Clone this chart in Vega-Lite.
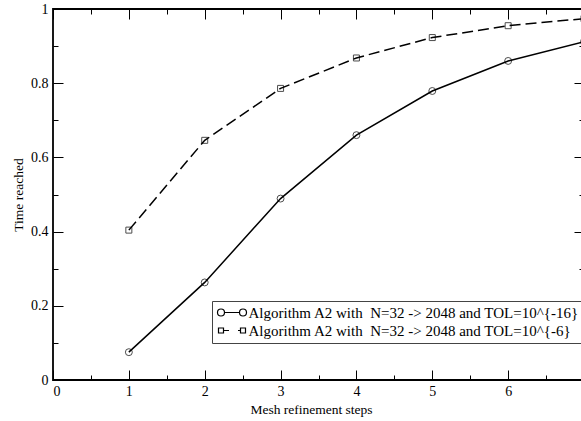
{
  "$schema": "https://vega.github.io/schema/vega-lite/v6.json",
  "width": 531,
  "height": 371,
  "autosize": {"type": "none"},
  "padding": {"left": 53, "top": 9, "right": 0, "bottom": 41},
  "background": "white",
  "config": {
    "view": {"stroke": "black", "strokeWidth": 1.8},
    "font": "Liberation Serif",
    "axis": {
      "grid": false,
      "domain": false,
      "tickColor": "black",
      "tickWidth": 1,
      "labelColor": "black",
      "labelFont": "Liberation Serif",
      "labelFontSize": 14,
      "titleFont": "Liberation Serif",
      "titleFontSize": 13.5,
      "titleFontWeight": "normal",
      "titleColor": "black"
    }
  },
  "data": {
    "values": [
      {"run": "Algorithm A2 with\u00a0 N=32 -> 2048 and TOL=10^{-16}", "tol": -16, "step": 1, "time": 0.075},
      {"run": "Algorithm A2 with\u00a0 N=32 -> 2048 and TOL=10^{-16}", "tol": -16, "step": 2, "time": 0.263},
      {"run": "Algorithm A2 with\u00a0 N=32 -> 2048 and TOL=10^{-16}", "tol": -16, "step": 3, "time": 0.489},
      {"run": "Algorithm A2 with\u00a0 N=32 -> 2048 and TOL=10^{-16}", "tol": -16, "step": 4, "time": 0.66},
      {"run": "Algorithm A2 with\u00a0 N=32 -> 2048 and TOL=10^{-16}", "tol": -16, "step": 5, "time": 0.779},
      {"run": "Algorithm A2 with\u00a0 N=32 -> 2048 and TOL=10^{-16}", "tol": -16, "step": 6, "time": 0.86},
      {"run": "Algorithm A2 with\u00a0 N=32 -> 2048 and TOL=10^{-16}", "tol": -16, "step": 7, "time": 0.912},
      {"run": "Algorithm A2 with\u00a0 N=32 -> 2048 and TOL=10^{-6}", "tol": -6, "step": 1, "time": 0.404},
      {"run": "Algorithm A2 with\u00a0 N=32 -> 2048 and TOL=10^{-6}", "tol": -6, "step": 2, "time": 0.646},
      {"run": "Algorithm A2 with\u00a0 N=32 -> 2048 and TOL=10^{-6}", "tol": -6, "step": 3, "time": 0.786},
      {"run": "Algorithm A2 with\u00a0 N=32 -> 2048 and TOL=10^{-6}", "tol": -6, "step": 4, "time": 0.868},
      {"run": "Algorithm A2 with\u00a0 N=32 -> 2048 and TOL=10^{-6}", "tol": -6, "step": 5, "time": 0.923},
      {"run": "Algorithm A2 with\u00a0 N=32 -> 2048 and TOL=10^{-6}", "tol": -6, "step": 6, "time": 0.955},
      {"run": "Algorithm A2 with\u00a0 N=32 -> 2048 and TOL=10^{-6}", "tol": -6, "step": 7, "time": 0.974}
    ]
  },
  "resolve": {"axis": {"x": "independent", "y": "independent"}},
  "layer": [
    {
      "transform": [{"filter": {"field": "tol", "equal": -16}}],
      "mark": {"type": "line", "color": "black", "strokeWidth": 1.5},
      "encoding": {
        "x": {
          "field": "step", "type": "quantitative",
          "scale": {"domain": [0, 7], "nice": false, "zero": false},
          "axis": {"orient": "bottom", "values": [0, 1, 2, 3, 4, 5, 6], "format": "d", "tickSize": -10, "labelPadding": 14, "title": "Mesh refinement steps", "titlePadding": 4, "titleX": 258, "titleAlign": "center"}
        },
        "y": {
          "field": "time", "type": "quantitative",
          "scale": {"domain": [0, 1], "nice": false, "zero": false},
          "axis": {"orient": "left", "values": [0, 0.2, 0.4, 0.6, 0.8, 1], "format": "~g", "tickSize": -10, "labelPadding": 15, "title": "Time reached", "titlePadding": 5}
        }
      }
    },
    {
      "transform": [{"filter": {"field": "tol", "equal": -6}}],
      "mark": {"type": "line", "color": "black", "strokeWidth": 1.5, "strokeDash": [11, 5]},
      "encoding": {
        "x": {
          "field": "step", "type": "quantitative",
          "scale": {"domain": [0, 7], "nice": false, "zero": false},
          "axis": {"orient": "bottom", "values": [0.5, 1.5, 2.5, 3.5, 4.5, 5.5, 6.5], "labels": false, "tickSize": -5, "title": null}
        },
        "y": {
          "field": "time", "type": "quantitative",
          "scale": {"domain": [0, 1], "nice": false, "zero": false},
          "axis": {"orient": "left", "values": [0.1, 0.3, 0.5, 0.7, 0.9], "labels": false, "tickSize": -5, "title": null}
        }
      }
    },
    {
      "transform": [{"filter": {"field": "tol", "equal": -16}}],
      "mark": {"type": "point", "shape": "circle", "color": "black", "filled": false, "size": 48, "strokeWidth": 1},
      "encoding": {
        "x": {
          "field": "step", "type": "quantitative",
          "scale": {"domain": [0, 7], "nice": false, "zero": false},
          "axis": {"orient": "top", "values": [0, 1, 2, 3, 4, 5, 6, 7], "labels": false, "tickSize": -10, "title": null}
        },
        "y": {
          "field": "time", "type": "quantitative",
          "scale": {"domain": [0, 1], "nice": false, "zero": false},
          "axis": {"orient": "right", "values": [0, 0.2, 0.4, 0.6, 0.8, 1], "labels": false, "tickSize": -10, "title": null}
        }
      }
    },
    {
      "transform": [{"filter": {"field": "tol", "equal": -6}}],
      "mark": {"type": "point", "shape": "square", "color": "black", "filled": false, "size": 36, "strokeWidth": 1},
      "encoding": {
        "x": {
          "field": "step", "type": "quantitative",
          "scale": {"domain": [0, 7], "nice": false, "zero": false},
          "axis": {"orient": "top", "values": [0.5, 1.5, 2.5, 3.5, 4.5, 5.5, 6.5], "labels": false, "tickSize": -5, "title": null}
        },
        "y": {
          "field": "time", "type": "quantitative",
          "scale": {"domain": [0, 1], "nice": false, "zero": false},
          "axis": {"orient": "right", "values": [0.1, 0.3, 0.5, 0.7, 0.9], "labels": false, "tickSize": -5, "title": null}
        }
      }
    },
    {
      "mark": {"type": "point", "color": "black", "filled": false, "size": 100, "opacity": 0},
      "encoding": {
        "x": {"field": "step", "type": "quantitative", "scale": {"domain": [0, 7], "nice": false, "zero": false}, "axis": null},
        "y": {"field": "time", "type": "quantitative", "scale": {"domain": [0, 1], "nice": false, "zero": false}, "axis": null},
        "shape": {
          "field": "run", "type": "nominal",
          "scale": {
            "domain": ["Algorithm A2 with\u00a0 N=32 -> 2048 and TOL=10^{-16}", "Algorithm A2 with\u00a0 N=32 -> 2048 and TOL=10^{-6}"],
            "range": [
              "M-2.9,0A0.7,0.7 0 1,0 -1.5,0A0.7,0.7 0 1,0 -2.9,0M-1.5,0L1.5,0M1.5,0A0.7,0.7 0 1,0 2.9,0A0.7,0.7 0 1,0 1.5,0",
              "M-2.7,-0.5H-1.7V0.5H-2.7ZM-1.7,0H-0.6M1.2,0H1.7M1.7,-0.5H2.7V0.5H1.7Z"
            ]
          },
          "legend": {
            "title": null, "orient": "none", "legendX": 159, "legendY": 292,
            "padding": 4, "fillColor": "white", "strokeColor": "#444",
            "labelFont": "Liberation Serif", "labelFontSize": 15, "labelColor": "black", "labelLimit": 600,
            "symbolSize": 100, "symbolStrokeWidth": 1.2, "symbolStrokeColor": "black", "symbolFillColor": "transparent", "symbolOpacity": 1,
            "rowPadding": 2, "symbolOffset": 8.5, "labelOffset": 9
          }
        }
      }
    }
  ]
}
